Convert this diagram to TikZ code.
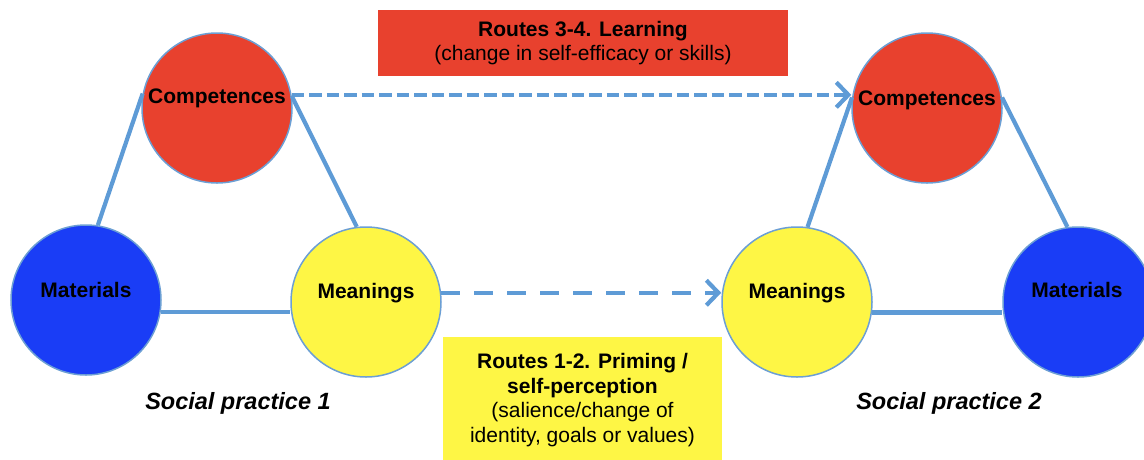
\documentclass[tikz,border=0pt]{standalone}
\usepackage{fontspec}
\setmainfont{Liberation Sans}
\usetikzlibrary{arrows.meta}
\definecolor{cred}{HTML}{E8412E}
\definecolor{cblue}{HTML}{1A3DF6}
\definecolor{cyellow}{HTML}{FEF645}
\definecolor{cline}{HTML}{5E9BD6}
\definecolor{cedge}{HTML}{6C9FD4}
\begin{document}
\begin{tikzpicture}[x=1pt,y=-1pt,
  elem/.style={circle,minimum size=150pt,inner sep=0pt,draw=cedge,line width=1.5pt},
  lbl/.style={font=\fontsize{21}{24}\selectfont\bfseries,anchor=base,inner sep=0pt},
  link/.style={draw=cline,line width=4.2pt},
  route/.style={draw=cline,line width=4.2pt,-{Straight Barb[length=12pt,width=25pt,line width=4.2pt]}},
  caption/.style={font=\fontsize{23.5}{26}\selectfont\bfseries\itshape,anchor=base,inner sep=0pt},
  routebox/.style={inner sep=0pt,align=center,font=\fontsize{21}{24.5}\selectfont}]
\useasboundingbox (0,0) rectangle (1144,459);
\clip (0,0) rectangle (1144,459);
% boxes
\node[routebox,fill=cred,minimum width=410pt,minimum height=66pt] (learn) at (583,43)
  {\textbf{Routes 3-4. Learning}\\(change in self-efficacy or skills)};
\node[routebox,fill=cyellow,minimum width=279pt,minimum height=126pt] (prime) at (582.5,400)
  {\textbf{Routes 1-2. Priming /}\\\textbf{self-perception}\\(salience/change of\\identity, goals or values)};
% circles
\node[elem,fill=cred] (comp1) at (217,108) {};
\node[elem,fill=cblue] (mat1) at (86,300) {};
\node[elem,fill=cyellow] (mean1) at (366,302) {};
\node[elem,fill=cred] (comp2) at (927,108) {};
\node[elem,fill=cyellow] (mean2) at (797,302) {};
\node[elem,fill=cblue] (mat2) at (1078,302) {};
% connectors
\draw[link] (mat1.81) -- (comp1.169);
\draw[link] (comp1.9) -- (mean1.97);
\draw[link] (mat1.-9) -- (mat1.-9 -| mean1.west);
\draw[link] (mean2.82) -- (comp2.172);
\draw[link] (comp2.8) -- (mat2.98);
\draw[link] (mean2.-8.5) -- (mean2.-8.5 -| mat2.west);
\draw[route,dash pattern=on 12.5pt off 5pt] (comp1.10) -- (comp1.10 -| comp2.west);
\draw[route,dash pattern=on 19pt off 14pt] (mean1.7.5) -- (mean1.7.5 -| mean2.west);
% labels
\node[lbl] (tc1) at (217,103) {Competences};
\node[lbl] (tm1) at (86,297) {Materials};
\node[lbl] (tn1) at (366,298) {Meanings};
\node[lbl] (tc2) at (927,105) {Competences};
\node[lbl] (tn2) at (797,298) {Meanings};
\node[lbl] (tm2) at (1077,297) {Materials};
\node[caption] (sp1) at (238,409) {Social practice 1};
\node[caption] (sp2) at (949,409) {Social practice 2};
\end{tikzpicture}
\end{document}
